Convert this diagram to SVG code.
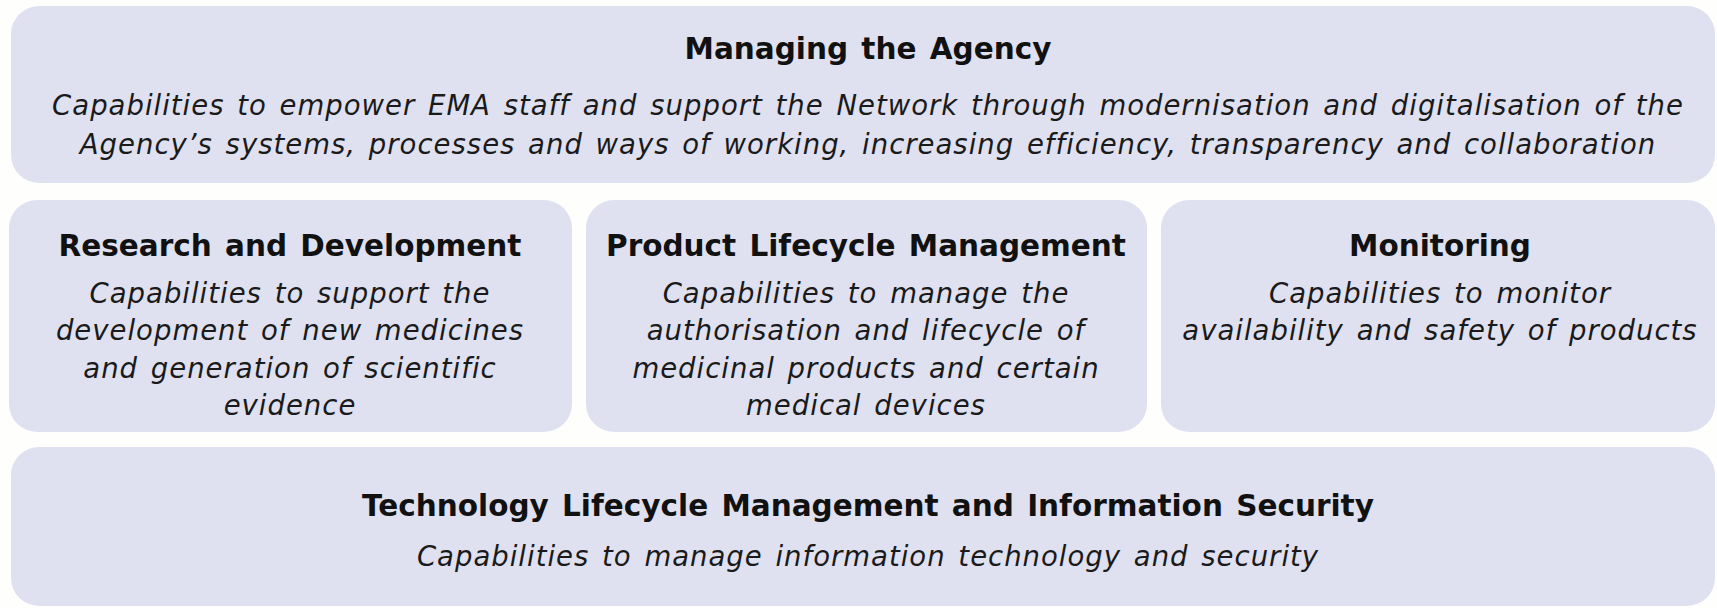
<svg xmlns="http://www.w3.org/2000/svg" width="1717" height="608" viewBox="0 0 1717 608">
<style>
.box{fill:#dfe1f0;}
.t{font-family:"DejaVu Sans","Verdana",sans-serif;font-weight:bold;font-size:29.5px;word-spacing:3px;fill:#111;text-anchor:middle;}
.d{font-family:"DejaVu Sans","Verdana",sans-serif;font-style:italic;font-size:27.5px;letter-spacing:1px;word-spacing:3px;fill:#1a1a1a;text-anchor:middle;}
</style>
<rect width="1717" height="608" fill="#fefefc"/>
<g id="managing">
<rect class="box" x="11" y="6" width="1704" height="177" rx="28"/>
<text class="t" x="868" y="59">Managing the Agency</text>
<text class="d" x="868" y="115">Capabilities to empower EMA staff and support the Network through modernisation and digitalisation of the</text>
<text class="d" x="868" y="154">Agency’s systems, processes and ways of working, increasing efficiency, transparency and collaboration</text>
</g>
<g id="research">
<rect class="box" x="9" y="200" width="563" height="232" rx="28"/>
<text class="t" x="290" y="256">Research and Development</text>
<text class="d" x="290" y="303">Capabilities to support the</text>
<text class="d" x="290" y="340">development of new medicines</text>
<text class="d" x="290" y="378">and generation of scientific</text>
<text class="d" x="290" y="415">evidence</text>
</g>
<g id="product">
<rect class="box" x="586" y="200" width="561" height="232" rx="28"/>
<text class="t" x="866" y="256">Product Lifecycle Management</text>
<text class="d" x="866" y="303">Capabilities to manage the</text>
<text class="d" x="866" y="340">authorisation and lifecycle of</text>
<text class="d" x="866" y="378">medicinal products and certain</text>
<text class="d" x="866" y="415">medical devices</text>
</g>
<g id="monitoring">
<rect class="box" x="1161" y="200" width="554" height="232" rx="28"/>
<text class="t" x="1440" y="256">Monitoring</text>
<text class="d" x="1440" y="303">Capabilities to monitor</text>
<text class="d" x="1440" y="340">availability and safety of products</text>
</g>
<g id="technology">
<rect class="box" x="11" y="447" width="1704" height="159" rx="28"/>
<text class="t" x="868" y="516">Technology Lifecycle Management and Information Security</text>
<text class="d" x="868" y="566">Capabilities to manage information technology and security</text>
</g>
<g id="connectors"></g>
</svg>
